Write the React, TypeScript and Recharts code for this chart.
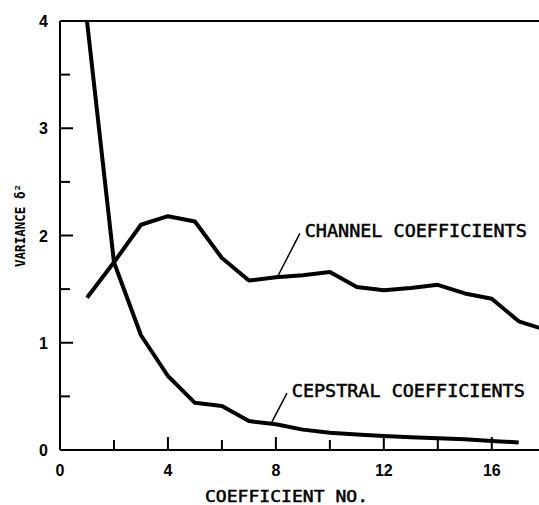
import React from 'react';
import { LineChart, Line, XAxis, YAxis, ReferenceLine, ReferenceDot } from 'recharts';

const coefficientNo = [1, 2, 3, 4, 5, 6, 7, 8, 9, 10, 11, 12, 13, 14, 15, 16, 17, 18];
const channelVariance = [1.42, 1.75, 2.1, 2.18, 2.13, 1.79, 1.58, 1.61, 1.63, 1.66, 1.52, 1.49, 1.51, 1.54, 1.46, 1.41, 1.2, 1.12];
const cepstralVariance = [4.0, 1.75, 1.07, 0.69, 0.44, 0.41, 0.27, 0.24, 0.19, 0.16, 0.145, 0.13, 0.12, 0.11, 0.1, 0.085, 0.07, null];
const xTicks = [0, 2, 4, 6, 8, 10, 12, 14, 16];
const yTicks = [0, 0.5, 1, 1.5, 2, 2.5, 3, 3.5, 4];
const xTitle = 'COEFFICIENT NO.';
const yTitle = 'VARIANCE δ²';
const channelLabel = 'CHANNEL COEFFICIENTS';
const cepstralLabel = 'CEPSTRAL COEFFICIENTS';

const data = coefficientNo.map((n, i) => ({
  n,
  channel: channelVariance[i],
  cepstral: cepstralVariance[i],
}));

const MONO = '"DejaVu Sans Mono", "Liberation Mono", monospace';
const SANS = '"Liberation Sans", Arial, sans-serif';

const XTick = (props: any) => {
  const { x, y, payload } = props;
  const v = payload.value;
  const major = v % 4 === 0;
  return (
    <g>
      {v !== 0 && (
        <line x1={x} x2={x} y1={y} y2={y - (major ? 13 : 10)} stroke="#000" strokeWidth={2} />
      )}
      {major && (
        <text x={x} y={y + 26} textAnchor="middle" fontFamily={SANS} fontWeight="bold" fontSize={16} fill="#000">
          {v}
        </text>
      )}
    </g>
  );
};

const YTick = (props: any) => {
  const { x, y, payload } = props;
  const v = payload.value;
  const major = Number.isInteger(v);
  return (
    <g>
      {v !== 0 && v !== 4 && (
        <line x1={x} x2={x + (major ? 13 : 10)} y1={y} y2={y} stroke="#000" strokeWidth={2} />
      )}
      {major && (
        <text x={x - 12} y={y + 6} textAnchor="end" fontFamily={SANS} fontWeight="bold" fontSize={16} fill="#000">
          {v}
        </text>
      )}
    </g>
  );
};

const textShape = (label: string, len: number) => (p: any) => (
  <text
    x={p.cx}
    y={p.cy}
    fontFamily={MONO}
    fontSize={18}
    fill="#000"
    stroke="#000"
    strokeWidth={0.5}
    textLength={len}
    lengthAdjust="spacingAndGlyphs"
  >
    {label}
  </text>
);

export default function App() {
  return (
    <div style={{ width: 539, height: 505 }}>
      <style>{'body{margin:0}'}</style>
      <LineChart width={539} height={505} data={data} margin={{ top: 21, right: 0, bottom: 0, left: 0 }}>
        <XAxis
          dataKey="n"
          type="number"
          domain={[0, 17.75]}
          allowDataOverflow
          ticks={xTicks}
          interval={0}
          height={55}
          tickSize={0}
          tickMargin={0}
          tickLine={false}
          axisLine={{ stroke: '#000', strokeWidth: 2 }}
          tick={<XTick />}
          label={{
            content: () => (
              <text
                x={205}
                y={502}
                fontFamily={MONO}
                fontSize={15.5}
                fill="#000"
                stroke="#000"
                strokeWidth={0.5}
                textLength={163}
                lengthAdjust="spacingAndGlyphs"
              >
                {xTitle}
              </text>
            ),
          }}
        />
        <YAxis
          type="number"
          domain={[0, 4]}
          allowDataOverflow
          ticks={yTicks}
          interval={0}
          width={60}
          tickSize={0}
          tickMargin={0}
          tickLine={false}
          axisLine={{ stroke: '#000', strokeWidth: 2 }}
          tick={<YTick />}
          label={{
            content: () => (
              <text
                x={25}
                y={267}
                transform="rotate(-90 25 267)"
                fontFamily={MONO}
                fontWeight="bold"
                fontSize={14}
                fill="#000"
                textLength={83}
                lengthAdjust="spacingAndGlyphs"
              >
                {yTitle}
              </text>
            ),
          }}
        />
        <ReferenceLine y={4} stroke="#000" strokeWidth={2} />
        <ReferenceLine segment={[{ x: 8.89, y: 2.02 }, { x: 8.07, y: 1.62 }]} stroke="#000" strokeWidth={1.5} />
        <ReferenceLine segment={[{ x: 8.41, y: 0.53 }, { x: 7.85, y: 0.26 }]} stroke="#000" strokeWidth={1.5} />
        <ReferenceDot x={9.07} y={1.99} r={0} shape={textShape(channelLabel, 222)} />
        <ReferenceDot x={8.59} y={0.494} r={0} shape={textShape(cepstralLabel, 233)} />
        <Line
          dataKey="channel"
          stroke="#000"
          strokeWidth={4}
          strokeLinejoin="round"
          dot={false}
          activeDot={false}
          isAnimationActive={false}
        />
        <Line
          dataKey="cepstral"
          stroke="#000"
          strokeWidth={4}
          strokeLinejoin="round"
          dot={false}
          activeDot={false}
          isAnimationActive={false}
        />
      </LineChart>
    </div>
  );
}
